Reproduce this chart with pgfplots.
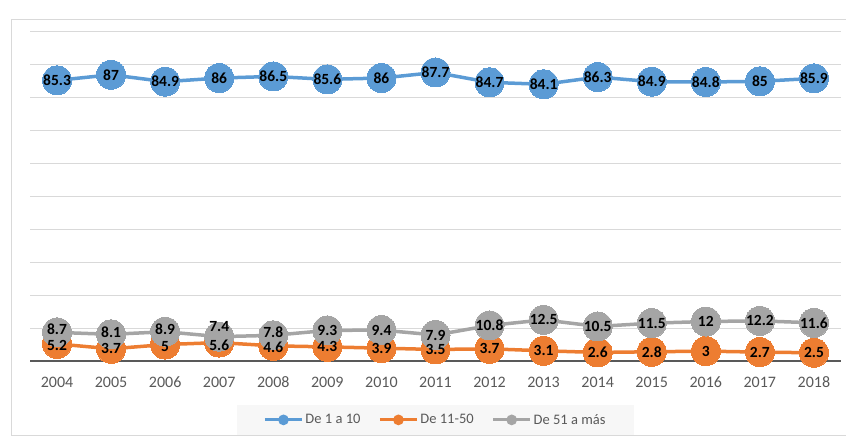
\documentclass[border=0pt]{standalone}
\usepackage{pgfplots}
\pgfplotsset{compat=1.18}
\usepackage{fontspec}
\setmainfont{Carlito}
\definecolor{s1}{HTML}{5B9BD5}
\definecolor{s2}{HTML}{ED7D31}
\definecolor{s3}{HTML}{A5A5A5}
\definecolor{gridc}{HTML}{D9D9D9}
\definecolor{txt}{HTML}{595959}

% db, dc: small label nudges (pt) where labels collide
\pgfplotstableread{
year a b c db dc
2004 85.3 5.2 8.7 -2 3
2005 87.0 3.7 8.1 0 2
2006 84.9 5.0 8.9 -2 3
2007 86.0 5.6 7.4 -3 10
2008 86.5 4.6 7.8 -1 3
2009 85.6 4.3 9.3 0 0
2010 86.0 3.9 9.4 0 0
2011 87.7 3.5 7.9 0 0
2012 84.7 3.7 10.8 0 0
2013 84.1 3.1 12.5 0 0
2014 86.3 2.6 10.5 0 0
2015 84.9 2.8 11.5 0 0
2016 84.8 3.0 12.0 0 0
2017 85.0 2.7 12.2 0 0
2018 85.9 2.5 11.6 0 0
}\data

\begin{document}
\begin{tikzpicture}
\path[use as bounding box] (0,0) rectangle (846pt,439pt);
\draw[gridc, line width=1pt] (11pt,3pt) rectangle (850pt,419pt);
\begin{axis}[
  at={(30pt,78pt)}, anchor=south west,
  scale only axis, width=811pt, height=329pt,
  xmin=2003.5, xmax=2018.5, ymin=0, ymax=100,
  clip=false,
  axis line style={draw=none},
  tick style={draw=none},
  major tick length=0pt,
  ytick={10,20,...,100}, yticklabels={},
  ymajorgrids, grid style={gridc, line width=1pt},
  xtick={2004,...,2018},
  /pgf/number format/1000 sep={},
  /pgf/number format/assume math mode=true,
  xticklabel style={font=\fontsize{16}{16}\selectfont, text=txt, anchor=center, yshift=-21pt},
  legend columns=3,
  legend style={at={(0.5,-0.179)}, anchor=center, draw=none, fill=black!3,
    font=\fontsize{14.5}{14.5}\selectfont, text=txt,
    inner xsep=26pt, inner ysep=7pt,
    /tikz/every even column/.append style={column sep=16pt}},
]
\draw[txt, line width=2pt] (rel axis cs:0,0) -- (rel axis cs:1,0);

\addplot[s1, line width=3.5pt, mark=*, mark size=14.5pt,
  mark options={draw=s1, fill=s1, line width=0pt},
  legend image code/.code={\draw[s1, line width=3pt] (0pt,0pt) -- (37pt,0pt); \fill[s1] (18.5pt,0pt) circle (3.5pt);}]
  table[x=year, y=a] {\data};
\addlegendentry{De 1 a 10}
\addplot[s2, line width=3.5pt, mark=*, mark size=14.5pt,
  mark options={draw=s2, fill=s2, line width=0pt},
  legend image code/.code={\draw[s2, line width=3pt] (0pt,0pt) -- (37pt,0pt); \fill[s2] (18.5pt,0pt) circle (3.5pt);}]
  table[x=year, y=b] {\data};
\addlegendentry{De 11-50}
\addplot[s3, line width=3.5pt, mark=*, mark size=14.5pt,
  mark options={draw=s3, fill=s3, line width=0pt},
  legend image code/.code={\draw[s3, line width=3pt] (0pt,0pt) -- (37pt,0pt); \fill[s3] (18.5pt,0pt) circle (3.5pt);}]
  table[x=year, y=c] {\data};
\addlegendentry{De 51 a más}

% data labels on top of every marker
\pgfplotsset{lbl/.style={draw=none, mark=none, forget plot, nodes near coords,
  nodes near coords align=center,
  every node near coord/.append style={anchor=center, text=black, inner sep=0pt,
    font=\bfseries\fontsize{15.5}{15.5}\selectfont}}}
\addplot[lbl] table[x=year, y=a] {\data};
\addplot[lbl, visualization depends on={\thisrow{db} \as \dy},
  every node near coord/.append style={yshift=\dy pt}] table[x=year, y=b] {\data};
\addplot[lbl, visualization depends on={\thisrow{dc} \as \dy},
  every node near coord/.append style={yshift=\dy pt}] table[x=year, y=c] {\data};
\end{axis}
\end{tikzpicture}
\end{document}
